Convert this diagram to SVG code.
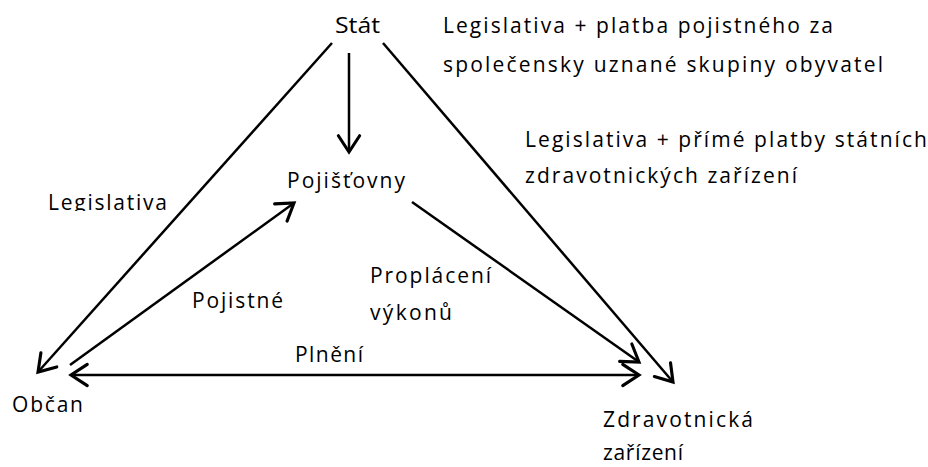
<svg xmlns="http://www.w3.org/2000/svg" width="928" height="467" viewBox="0 0 928 467">
<style>
  text { font-family: "Open Sans", "Liberation Sans", Arial, sans-serif; font-size: 21px; fill: #000; }
  .c { stroke: #000; stroke-width: 2.5; fill: none; }
</style>
<defs>
  <marker id="ah" markerUnits="userSpaceOnUse" markerWidth="30" markerHeight="30" viewBox="-16 -12 20 24" refX="0" refY="0" orient="auto-start-reverse">
    <path d="M-13,-8.5 L0,0 L-13,8.5" fill="none" stroke="#000" stroke-width="2.5" stroke-linecap="round" stroke-linejoin="miter"/>
  </marker>
  <clipPath id="clipLeg"><rect x="0" y="180" width="200" height="31"/></clipPath>
</defs>
<rect width="928" height="467" fill="#fff"/>
<g id="connectors">
  <line class="c" x1="332" y1="43" x2="38" y2="372" marker-end="url(#ah)"/>
  <line class="c" x1="349" y1="53" x2="349" y2="152" marker-end="url(#ah)"/>
  <line class="c" x1="383" y1="43" x2="673" y2="382" marker-end="url(#ah)"/>
  <line class="c" x1="70" y1="365" x2="294" y2="203" marker-end="url(#ah)"/>
  <line class="c" x1="412" y1="202" x2="639" y2="362" marker-end="url(#ah)"/>
  <line class="c" x1="71" y1="375" x2="639" y2="375" marker-start="url(#ah)" marker-end="url(#ah)"/>
</g>
<g id="node-stat"><text x="335" y="33" textLength="45" lengthAdjust="spacingAndGlyphs">Stát</text></g>
<g id="label-stat-poj">
  <text x="443" y="33" textLength="390" lengthAdjust="spacing">Legislativa + platba pojistného za</text>
  <text x="443" y="72" textLength="440" lengthAdjust="spacing">společensky uznané skupiny obyvatel</text>
</g>
<g id="label-stat-zdrav">
  <text x="525" y="147" textLength="402" lengthAdjust="spacing">Legislativa + přímé platby státních</text>
  <text x="525" y="183" textLength="272" lengthAdjust="spacing">zdravotnických zařízení</text>
</g>
<g id="label-stat-obcan"><text x="48" y="210" textLength="119" lengthAdjust="spacing" clip-path="url(#clipLeg)">Legislativa</text></g>
<g id="node-pojistovny"><text x="287" y="188" textLength="118" lengthAdjust="spacing">Pojišťovny</text></g>
<g id="label-proplaceni">
  <text x="370" y="283" textLength="121" lengthAdjust="spacing">Proplácení</text>
  <text x="370" y="320" textLength="82" lengthAdjust="spacing">výkonů</text>
</g>
<g id="label-pojistne"><text x="192" y="308" textLength="91" lengthAdjust="spacing">Pojistné</text></g>
<g id="label-plneni"><text x="295" y="362" textLength="68" lengthAdjust="spacing">Plnění</text></g>
<g id="node-obcan"><text x="12" y="412" textLength="71" lengthAdjust="spacing">Občan</text></g>
<g id="node-zdrav">
  <text x="603" y="427" textLength="150" lengthAdjust="spacing">Zdravotnická</text>
  <text x="603" y="460" textLength="80" lengthAdjust="spacing">zařízení</text>
</g>
</svg>
